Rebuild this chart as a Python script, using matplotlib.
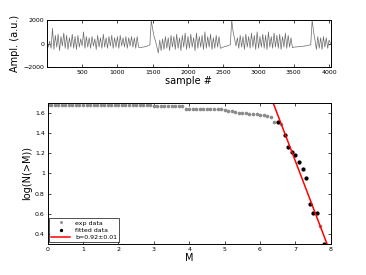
import numpy as np
import matplotlib
matplotlib.use('Agg')
import matplotlib.pyplot as plt

# --- top panel: raw signal, every 20 samples ---
seg_starts = [0, 1340, 1480, 2500, 2620, 3500, 3760]
seg_a = [400, -300, 200, -400, 1300, -500, 700, -300, 800, -600,
         600, -200, 900, -400, 700, -500, 500, -300, 800, -400,
         600, -500, 700, -300, 400, -200, 1000, -400, 600, -300,
         500, -400, 600, -200, 400, -500, 700, -300, 500, -400,
         800, -300, 500, -400, 600, -200, 700, -400, 500, -300,
         600, -400, 700, -200, 500, -300, 600, -400, 500, -200,
         600, -300, 500, -400, 600, -300, -350]
quiet_a = [-320, -300, -280, -250, -220, -180, -100]
seg_b = [2000, 1200, 600, 200, -300, -800, 300, -600, 400, -500,
         600, -400, 500, -600, 700, -300, 600, -500, 800, -400,
         500, -600, 700, -300, 900, -500, 600, -400, 800, -300,
         500, -600, 900, -400, 600, -300, 700, -500, 1000, -400,
         600, -300, 800, -500, 500, -400, 700, -300, 600, -400, -350]
quiet_b = [-300, -250, -230, -200, -150, -100]
seg_c = [2000, 1000, 400, -200, 500, -400, 700, -300, 600, -500,
         800, -300, 600, -400, 900, -300, 700, -500, 1000, -400,
         600, -300, 800, -400, 700, -500, 1000, -300, 600, -400,
         900, -300, 700, -400, 800, -500, 600, -300, 900, -400,
         700, -300, 500, -350]
quiet_c = [-300, -290, -280, -270, -260, -250, -240, -220, -200, -180, -160, -130, -100]
seg_d = [2000, 1000, 300, -500, 600, -400, 500, -500, 600, -300, 500, -400, 300, 0]

# --- bottom panel: Gutenberg-Richter ---
exp_M = [round(0.1 * i, 1) for i in range(79)]
exp_logN = [1.683] * 24 + [1.675] * 6 + [1.668] * 9 + [1.643] * 10 + \
           [1.635, 1.627, 1.62, 1.615, 1.607, 1.604, 1.602, 1.600,
            1.588, 1.585, 1.585, 1.582, 1.575, 1.572, 1.555,
            1.505, 1.505, 1.495,
            1.379, 1.257, 1.208, 1.178, 1.115, 1.043, 0.957, 0.70, 0.604, 0.604, 0.478, 0.30]
fit_M = [6.5, 6.7, 6.8, 6.9, 7.0, 7.1, 7.2, 7.3, 7.4, 7.5, 7.6, 7.8]
fit_a, fit_b = 7.56, 0.92

segments = [seg_a, quiet_a, seg_b, quiet_b, seg_c, quiet_c, seg_d]
sample, amp = [], []
for s0, seg in zip(seg_starts, segments):
    sample += [s0 + 20 * i for i in range(len(seg))]
    amp += seg

fit_logN = [exp_logN[exp_M.index(m)] for m in fit_M]

fig = plt.figure(figsize=(3.66, 2.75), dpi=100)
fig.set_facecolor('white')
top = fig.add_axes([0.128, 0.756, 0.776, 0.171])
bot = fig.add_axes([0.130, 0.113, 0.774, 0.513])

for ax in [top, bot]:
    ax.tick_params(direction='in', length=2, width=0.5, labelsize=4.5,
                   top=True, right=True, pad=2)
    for sp in ax.spines.values():
        sp.set_linewidth(0.7)

# Plot signal
top.plot(sample, amp, color='#6a6a6a', lw=0.5)
top.set_xlim(0, 4025)
top.set_ylim(-2000, 2000)
top.set_xticks([500, 1000, 1500, 2000, 2500, 3000, 3500, 4000])
top.set_yticks([-2000, 0, 2000])
top.set_yticklabels(['\u22122000', '0', '2000'])
top.set_xlabel('sample #', fontsize=7, labelpad=1)
top.set_ylabel('Ampl. (a.u.)', fontsize=7, labelpad=2)

# Plot magnitude distribution
bot.plot(exp_M, exp_logN, 'o', color='#8a8a8a', ms=2.6, mec='none', label='exp data')
bot.plot(fit_M, fit_logN, 'o', color='black', ms=3, mec='none', label='fitted data')
line_M = np.array([0, 8])
bot.plot(line_M, fit_a - fit_b * line_M, color='red', lw=1.1, label='b=0.92\u00b10.01')
bot.set_xlim(0, 8)
bot.set_ylim(0.3, 1.7)
bot.set_yticks([0.4, 0.6, 0.8, 1.0, 1.2, 1.4, 1.6])
bot.set_yticklabels(['0.4', '0.6', '0.8', '1', '1.2', '1.4', '1.6'])
bot.set_xlabel('M', fontsize=7, labelpad=1)
bot.set_ylabel('log(N(>M))', fontsize=7, labelpad=2)
leg = bot.legend(loc='lower left', fontsize=4.5, frameon=True, fancybox=False,
                 borderaxespad=0.3, handlelength=3, borderpad=0.3, labelspacing=0.3,
                 markerscale=0.8)
leg.get_frame().set_edgecolor('black')
leg.get_frame().set_linewidth(0.6)

fig.savefig('out.png', dpi=100)
